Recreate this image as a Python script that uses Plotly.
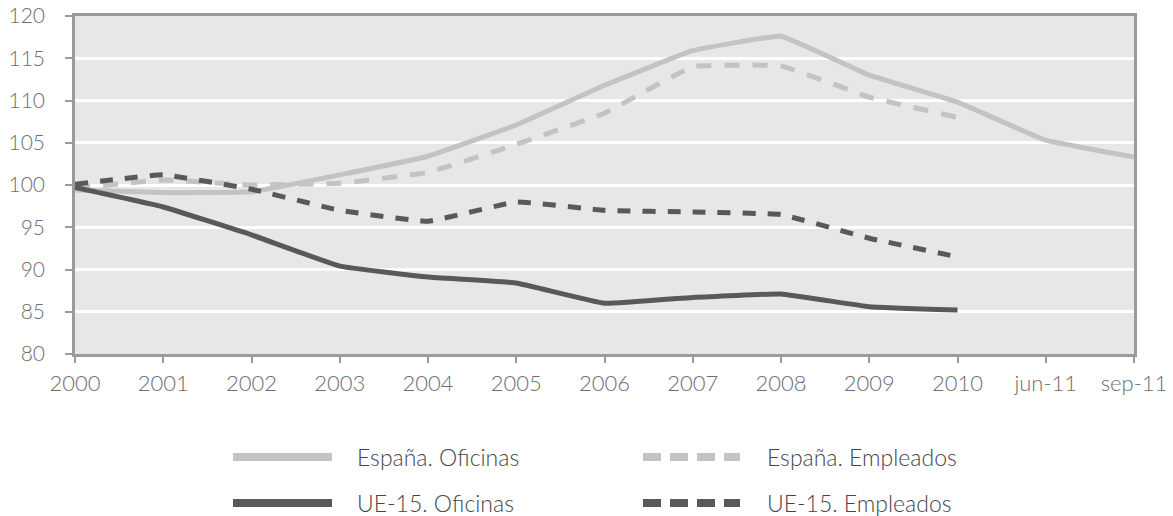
import plotly.graph_objects as go

# Periods on the category axis
periods = ["2000", "2001", "2002", "2003", "2004", "2005", "2006",
           "2007", "2008", "2009", "2010", "jun-11", "sep-11"]

# Index values (base 2000 = 100)
espana_oficinas = [99.4, 99.1, 99.2, 101.2, 103.4, 107.1, 111.8, 115.9, 117.6,
                   113.0, 109.8, 105.3, 103.3]
espana_empleados = [99.6, 100.6, 100.0, 100.2, 101.5, 104.8, 108.5, 114.0, 114.1,
                    110.4, 108.0, None, None]
ue15_oficinas = [99.7, 97.4, 94.1, 90.4, 89.1, 88.4, 86.0, 86.7, 87.1,
                 85.6, 85.2, None, None]
ue15_empleados = [100.1, 101.2, 99.5, 97.0, 95.7, 98.0, 97.0, 96.8, 96.5,
                  93.7, 91.5, None, None]

y_ticks = [80, 85, 90, 95, 100, 105, 110, 115, 120]

LIGHT = "#c2c3c5"
DARK = "#58595b"
AXIS = "#9a9b9d"
TEXT = "#6d6e71"
FONT = "Lato, 'DejaVu Sans', sans-serif"

W, H = 1173, 516
M_L, M_R, M_T, M_B = 75, 39, 16, 162
PLOT_W = W - M_L - M_R
PLOT_H = H - M_T - M_B


def px_x(x):
    return (x - M_L) / PLOT_W


def px_y(y):
    return (H - M_B - y) / PLOT_H


series = [
    ("España. Oficinas", espana_oficinas, LIGHT, "solid"),
    ("España. Empleados", espana_empleados, LIGHT, "15px,13px"),
    ("UE-15. Oficinas", ue15_oficinas, DARK, "solid"),
    ("UE-15. Empleados", ue15_empleados, DARK, "13px,12px"),
]

fig = go.Figure()
for name, values, color, dash in series:
    fig.add_trace(go.Scatter(
        x=periods, y=values, name=name, mode="lines",
        line=dict(color=color, width=5, dash=dash, shape="spline", smoothing=0.25),
        connectgaps=False, showlegend=False,
    ))

# Legend drawn as a two-column key below the plot
legend_items = [
    ("España. Oficinas", LIGHT, "solid", 233, 332, 355, 457),
    ("España. Empleados", LIGHT, "18px,9px", 643, 740, 765, 457),
    ("UE-15. Oficinas", DARK, "solid", 233, 332, 355, 503),
    ("UE-15. Empleados", DARK, "18px,9px", 643, 740, 765, 503),
]
shapes = []
annotations = []
for label, color, dash, x0, x1, tx, ty in legend_items:
    shapes.append(dict(
        type="line", xref="paper", yref="paper",
        x0=px_x(x0), x1=px_x(x1), y0=px_y(ty), y1=px_y(ty),
        line=dict(color=color, width=8, dash=dash),
    ))
    annotations.append(dict(
        xref="paper", yref="paper", x=px_x(tx), y=px_y(ty),
        xanchor="left", yanchor="middle", text=label, showarrow=False,
        font=dict(family=FONT, size=23, color="#454547", weight=300),
    ))

fig.update_layout(
    width=W, height=H,
    margin=dict(l=M_L, r=M_R, t=M_T, b=M_B),
    paper_bgcolor="white",
    plot_bgcolor="#e6e7e8",
    shapes=shapes,
    annotations=annotations,
    showlegend=False,
)

fig.update_xaxes(
    type="category", categoryorder="array", categoryarray=periods,
    range=[0, len(periods) - 1], automargin=False,
    showgrid=False, zeroline=False,
    showline=True, linecolor=AXIS, linewidth=2.5, mirror=True,
    ticks="outside", ticklen=6, tickwidth=2, tickcolor=AXIS,
    ticklabelstandoff=2,
    tickfont=dict(family=FONT, size=22, color=TEXT, weight=300),
)
fig.update_yaxes(
    range=[80, 120], tickvals=y_ticks, ticktext=[str(v) for v in y_ticks],
    automargin=False,
    showgrid=True, gridcolor="white", gridwidth=2.5, zeroline=False,
    showline=True, linecolor=AXIS, linewidth=2.5, mirror=True,
    ticks="outside", ticklen=7, tickwidth=2, tickcolor=AXIS,
    ticklabelstandoff=16,
    tickfont=dict(family=FONT, size=21, color=TEXT, weight=300),
)

fig.write_html("out.html")
